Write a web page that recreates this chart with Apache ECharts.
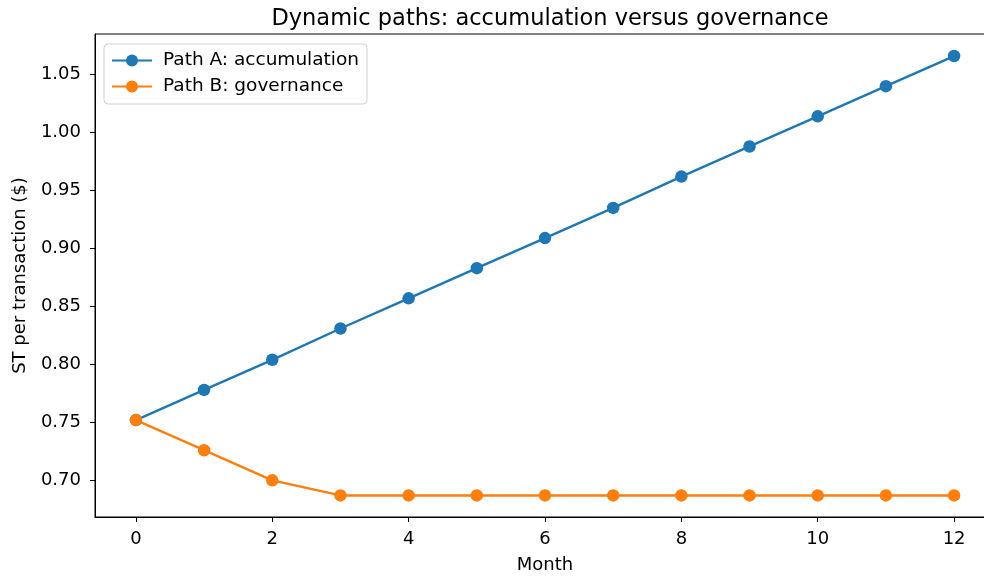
<!DOCTYPE html>
<html>
<head>
<meta charset="utf-8">
<script src="https://cdn.jsdelivr.net/npm/echarts@6/dist/echarts.min.js"></script>
<style>
  html, body { margin: 0; padding: 0; background: #fff; }
  #chart { width: 984px; height: 578px; }
</style>
</head>
<body>
<div id="chart"></div>
<script>
const months = [0, 1, 2, 3, 4, 5, 6, 7, 8, 9, 10, 11, 12];
const pathA = [0.752, 0.778, 0.804, 0.831, 0.857, 0.883, 0.909, 0.935, 0.962, 0.988, 1.014, 1.040, 1.066];
const pathB = [0.752, 0.726, 0.700, 0.687, 0.687, 0.687, 0.687, 0.687, 0.687, 0.687, 0.687, 0.687, 0.687];
const xTicks = [0, 2, 4, 6, 8, 10, 12];
const yTicks = [0.70, 0.75, 0.80, 0.85, 0.90, 0.95, 1.00, 1.05];

const font = 'DejaVu Sans';
const chart = echarts.init(document.getElementById('chart'));

const pairs = vals => months.map((m, i) => [m, vals[i]]);

const lineSeries = (name, color, vals) => ({
  name,
  type: 'line',
  data: pairs(vals),
  symbol: 'circle',
  symbolSize: 12.5,
  showSymbol: true,
  lineStyle: { width: 2.4, color },
  itemStyle: { color },
  animation: false
});

chart.setOption({
  backgroundColor: '#fff',
  textStyle: { fontFamily: font },
  title: {
    text: 'Dynamic paths: accumulation versus governance',
    left: 545,
    top: 3,
    textAlign: 'center',
    textStyle: { fontFamily: font, fontSize: 22.5, fontWeight: 'normal', color: '#000' }
  },
  legend: {
    left: 104,
    top: 44,
    orient: 'vertical',
    itemWidth: 40,
    itemHeight: 15,
    itemGap: 7,
    padding: [7, 8, 8, 7],
    borderColor: '#d0d0d0',
    borderWidth: 1,
    borderRadius: 4,
    backgroundColor: 'rgba(255,255,255,0.8)',
    textStyle: { fontFamily: font, fontSize: 18.5, color: '#000', padding: [0, 0, 0, 6] },
    data: ['Path A: accumulation', 'Path B: governance']
  },
  grid: {
    left: 95,
    top: 34,
    right: -11,
    bottom: 61,
    show: true,
    borderColor: '#000',
    borderWidth: 1,
    outerBoundsMode: 'none'
  },
  xAxis: {
    type: 'value',
    min: -0.6,
    max: 12.6,
    name: 'Month',
    nameLocation: 'middle',
    nameGap: 39,
    nameTextStyle: { fontFamily: font, fontSize: 18, color: '#000' },
    axisLine: { show: true, onZero: false, lineStyle: { color: '#000', width: 1 } },
    axisTick: { show: true, length: 5, lineStyle: { color: '#000' }, customValues: xTicks },
    axisLabel: { fontSize: 18, color: '#000', margin: 13, customValues: xTicks },
    splitLine: { show: false }
  },
  yAxis: {
    type: 'value',
    min: 0.6684,
    max: 1.085,
    name: 'ST per transaction ($)',
    nameLocation: 'middle',
    nameGap: 66,
    nameTextStyle: { fontFamily: font, fontSize: 18, color: '#000' },
    axisLine: { show: true, onZero: false, lineStyle: { color: '#000', width: 1 } },
    axisTick: { show: true, length: 5, lineStyle: { color: '#000' }, customValues: yTicks },
    axisLabel: {
      fontSize: 18, color: '#000', margin: 14, customValues: yTicks,
      formatter: v => v.toFixed(2)
    },
    splitLine: { show: false }
  },
  series: [
    lineSeries('Path A: accumulation', '#1f77b4', pathA),
    lineSeries('Path B: governance', '#ff7f0e', pathB)
  ]
});
</script>
</body>
</html>
